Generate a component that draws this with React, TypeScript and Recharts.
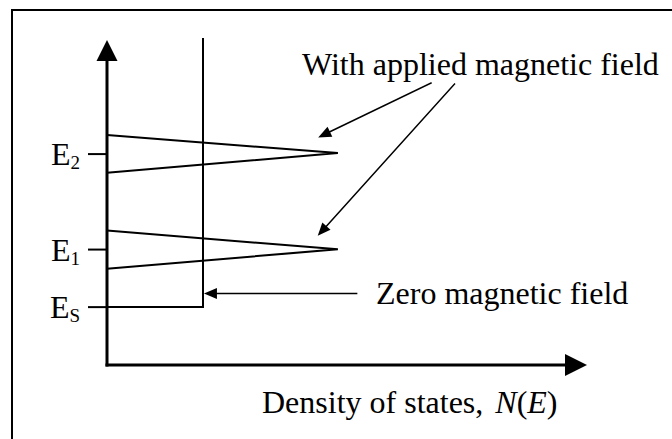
import { ComposedChart, Line, XAxis, YAxis, ReferenceLine } from 'recharts'

const W = 672
const H = 439
const SERIF = "'Liberation Serif', 'Times New Roman', serif"

// energy levels marked on the vertical axis
const levelNames = ['S', '1', '2']
const levelValues = [1.77, 3.53, 6.45]

// zero-field density of states: a step at E_S
const zeroField = [{ x: 0, y: 1.77 }, { x: 2, y: 1.77 }, { x: 2, y: 10 }]

// broadened levels with a field applied
const level1 = [{ x: 0, y: 4.11 }, { x: 4.81, y: 3.54 }, { x: 0, y: 2.94 }]
const level2 = [{ x: 0, y: 7.03 }, { x: 4.81, y: 6.48 }, { x: 0, y: 5.88 }]

// pointer arrows: [x1, y1, x2, y2], arrowhead at the second point
const pointers = [
  [6.75, 8.62, 4.4, 6.96],
  [7.24, 8.59, 4.39, 3.95],
  [5.2, 2.19, 2.02, 2.19],
]

function arrowShape(head: number, half: number, width: number) {
  return (p: any) => {
    const { x1, y1, x2, y2 } = p
    const dx = x2 - x1
    const dy = y2 - y1
    const len = Math.hypot(dx, dy) || 1
    const ux = dx / len
    const uy = dy / len
    const bx = x2 - ux * head
    const by = y2 - uy * head
    return (
      <g>
        <line x1={x1} y1={y1} x2={bx + ux} y2={by + uy} stroke="#000" strokeWidth={width} strokeLinecap="square" />
        <polygon
          points={`${x2},${y2} ${bx - uy * half},${by + ux * half} ${bx + uy * half},${by - ux * half}`}
          fill="#000"
        />
      </g>
    )
  }
}

function LevelTick({ x, y, payload }: any) {
  const i = levelValues.indexOf(payload.value)
  return (
    <text x={x} y={y + 11} textAnchor="end" fontFamily={SERIF} fontSize={32} fill="#000">
      E<tspan fontSize={19} dy={4}>{levelNames[i]}</tspan>
    </text>
  )
}

export default function App() {
  return (
    <div style={{ position: 'absolute', left: 0, top: 0, width: W, height: H, overflow: 'hidden', background: '#fff' }}>
      <div style={{ position: 'absolute', left: 11, top: 9, width: 800, height: 600, border: '2px solid #000' }} />
      <div style={{ position: 'absolute', left: 0, top: 0 }}>
        <ComposedChart width={W} height={H} margin={{ top: 38, right: 85, bottom: 74, left: 47 }}>
          <XAxis type="number" dataKey="x" domain={[0, 10]} hide />
          <YAxis
            type="number"
            domain={[0, 10]}
            ticks={levelValues}
            interval={0}
            width={60}
            axisLine={false}
            tickSize={19}
            tickMargin={8}
            tickLine={{ stroke: '#000', strokeWidth: 2 }}
            tick={(p: any) => <LevelTick {...p} />}
          />
          <Line data={zeroField} dataKey="y" type="linear" stroke="#000" strokeWidth={2} dot={false} isAnimationActive={false} />
          <Line data={level1} dataKey="y" type="linear" stroke="#000" strokeWidth={2} dot={false} isAnimationActive={false} />
          <Line data={level2} dataKey="y" type="linear" stroke="#000" strokeWidth={2} dot={false} isAnimationActive={false} />
          <ReferenceLine segment={[{ x: 0, y: 0 }, { x: 0, y: 9.94 }]} ifOverflow="visible" shape={arrowShape(21, 10.5, 3)} />
          <ReferenceLine segment={[{ x: 0, y: 0 }, { x: 10, y: 0 }]} ifOverflow="visible" shape={arrowShape(22, 11, 3)} />
          {pointers.map((a, i) => (
            <ReferenceLine
              key={i}
              segment={[{ x: a[0], y: a[1] }, { x: a[2], y: a[3] }]}
              ifOverflow="visible"
              shape={arrowShape(13, 5.5, 1.5)}
            />
          ))}
        </ComposedChart>
      </div>
      <svg width={W} height={H} style={{ position: 'absolute', left: 0, top: 0, pointerEvents: 'none' }}>
        <g fontFamily={SERIF} fontSize={32} fill="#000">
          <text x={302} y={75}>With applied magnetic field</text>
          <text x={376} y={304}>Zero magnetic field</text>
          <text x={262} y={413}>
            Density of states,
            <tspan dx={12} fontStyle="italic">N</tspan>
            <tspan>(</tspan>
            <tspan fontStyle="italic">E</tspan>
            <tspan>)</tspan>
          </text>
        </g>
      </svg>
    </div>
  )
}
